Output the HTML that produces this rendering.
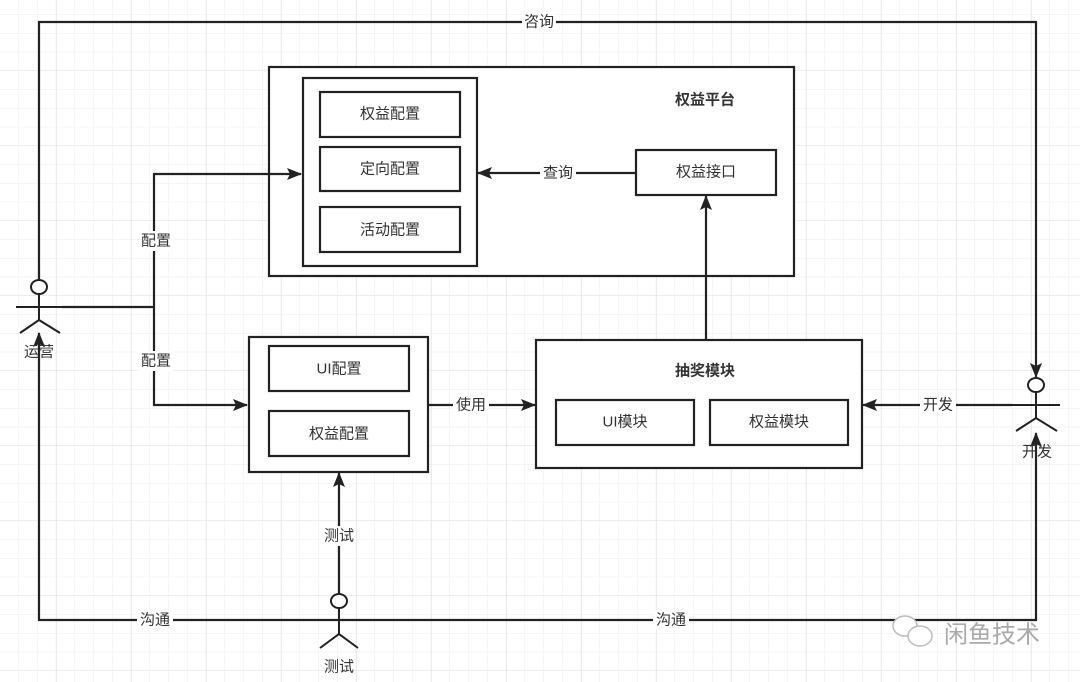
<!DOCTYPE html>
<html><head><meta charset="utf-8"><style>
html,body{margin:0;padding:0;background:#fff}
svg{display:block}
text{font-family:"Liberation Sans","Noto Sans CJK SC",sans-serif;font-size:15px;fill:#333;text-anchor:middle;dominant-baseline:central}
.b{font-weight:bold}
</style></head><body>
<svg width="1080" height="682" viewBox="0 0 1080 682" xmlns="http://www.w3.org/2000/svg">
<defs>
<pattern id="g" x="0" y="-4" width="18.75" height="18.75" patternUnits="userSpaceOnUse">
<path d="M18.75 0V18.75M0 18.75H18.75" stroke="#ededed" stroke-width="1" fill="none"/>
</pattern>
<pattern id="G" x="-18" y="-4" width="75" height="75" patternUnits="userSpaceOnUse">
<path d="M75 0V75M0 75H75" stroke="#e4e4e4" stroke-width="1.2" fill="none"/>
</pattern>
<marker id="a" markerWidth="15" markerHeight="12" refX="14" refY="6" orient="auto" markerUnits="userSpaceOnUse">
<path d="M0 0L15 6L0 12L3 6Z" fill="#222"/>
</marker>
</defs>
<rect width="1080" height="682" fill="url(#g)"/>
<rect width="1080" height="682" fill="url(#G)"/>
<g stroke="#222" stroke-width="2.2" fill="#fff">
<rect x="269" y="67" width="525" height="209"/>
<rect x="303" y="78" width="174" height="188"/>
<rect x="320" y="92" width="140" height="45"/>
<rect x="320" y="147" width="140" height="44"/>
<rect x="320" y="207" width="140" height="45"/>
<rect x="636" y="150" width="140" height="45"/>
<rect x="249" y="337" width="179" height="135"/>
<rect x="269" y="346" width="140" height="45"/>
<rect x="269" y="411" width="140" height="45"/>
<rect x="536" y="340" width="326" height="128"/>
<rect x="556" y="400" width="138" height="45"/>
<rect x="710" y="400" width="138" height="45"/>
</g>
<g stroke="#222" stroke-width="2.2" fill="none">
<polyline points="39,280 39,22 1036,22 1036,377" marker-end="url(#a)"/>
<line x1="62" y1="307" x2="154" y2="307"/>
<polyline points="154,307 154,174 301,174" marker-end="url(#a)"/>
<polyline points="154,307 154,405 247,405" marker-end="url(#a)"/>
<polyline points="339,620 39,620 39,333" marker-end="url(#a)"/>
<polyline points="339,620 1036,620 1036,433" marker-end="url(#a)"/>
<line x1="339" y1="594" x2="339" y2="473" marker-end="url(#a)"/>
<line x1="636" y1="173" x2="478" y2="173" marker-end="url(#a)"/>
<line x1="706" y1="340" x2="706" y2="196" marker-end="url(#a)"/>
<line x1="428" y1="405" x2="535" y2="405" marker-end="url(#a)"/>
<line x1="1012" y1="405" x2="863" y2="405" marker-end="url(#a)"/>
</g>
<g stroke="#222" stroke-width="2" fill="#fff">
<ellipse cx="39" cy="287" rx="8" ry="7"/>
<ellipse cx="1036" cy="385" rx="8" ry="7"/>
<ellipse cx="339" cy="601" rx="8" ry="7"/>
</g>
<g stroke="#222" stroke-width="2" fill="none">
<path d="M39 294V320M16 307H62M20 333L39 320L60 333"/>
<path d="M1036 392V418M1012 405H1060M1016 431L1036 418L1057 431"/>
<path d="M339 608V634M316 620H362M320 648L339 634L358 648"/>
</g>
<g fill="#fff">
<rect x="522" y="12" width="34" height="20"/>
<rect x="139" y="231" width="34" height="20"/>
<rect x="139" y="351" width="34" height="20"/>
<rect x="540" y="163" width="36" height="20"/>
<rect x="453" y="395" width="36" height="20"/>
<rect x="920" y="395" width="36" height="20"/>
<rect x="322" y="526" width="34" height="20"/>
<rect x="137" y="610" width="36" height="20"/>
<rect x="653" y="610" width="36" height="20"/>
</g>
<text x="539" y="22">咨询</text>
<text x="156" y="241">配置</text>
<text x="156" y="361">配置</text>
<text x="558" y="173">查询</text>
<text x="471" y="405">使用</text>
<text x="938" y="405">开发</text>
<text x="339" y="536">测试</text>
<text x="155" y="620">沟通</text>
<text x="671" y="620">沟通</text>
<text x="39" y="352">运营</text>
<text x="1037" y="452">开发</text>
<text x="339" y="667">测试</text>
<text x="390" y="114">权益配置</text>
<text x="390" y="169">定向配置</text>
<text x="390" y="230">活动配置</text>
<text x="706" y="172">权益接口</text>
<text x="705" y="100" class="b">权益平台</text>
<text x="705" y="371" class="b">抽奖模块</text>
<text x="339" y="369">UI配置</text>
<text x="339" y="434">权益配置</text>
<text x="625" y="422">UI模块</text>
<text x="779" y="422">权益模块</text>
<g stroke="#bbb" stroke-width="1.5" fill="#fff">
<ellipse cx="905" cy="626" rx="12" ry="10"/>
<ellipse cx="920" cy="636" rx="12" ry="10"/>
</g>
<text x="992" y="635" style="font-size:24px;fill:#aaa">闲鱼技术</text>
</svg>
</body></html>
